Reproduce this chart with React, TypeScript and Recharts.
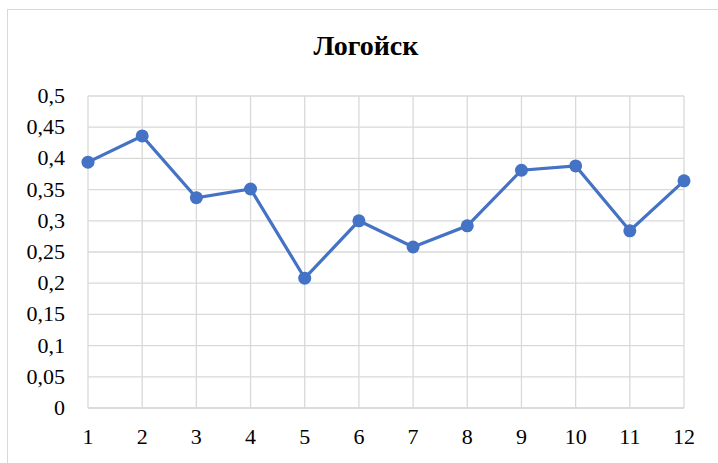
import React from 'react';
import { LineChart, Line, XAxis, YAxis, CartesianGrid } from 'recharts';

const categories = ['1', '2', '3', '4', '5', '6', '7', '8', '9', '10', '11', '12'];
const values = [0.394, 0.436, 0.337, 0.351, 0.208, 0.3, 0.258, 0.292, 0.381, 0.388, 0.284, 0.364];
const yTicks = [0, 0.05, 0.1, 0.15, 0.2, 0.25, 0.3, 0.35, 0.4, 0.45, 0.5];
const title = 'Логойск';

const data = categories.map((c, i) => ({ name: c, value: values[i] }));

const FONT = '"Liberation Serif", "Times New Roman", serif';

const XTick = (props: any) => {
  const { x, y, payload } = props;
  return (
    <text x={x} y={y} dy={15} textAnchor="middle" style={{ fontFamily: FONT, fontSize: 22, fill: '#000' }}>
      {payload.value}
    </text>
  );
};

const YTick = (props: any) => {
  const { x, y, payload } = props;
  return (
    <text x={x} y={y} dy={7} textAnchor="end" style={{ fontFamily: FONT, fontSize: 22, fill: '#000' }}>
      {String(payload.value).replace('.', ',')}
    </text>
  );
};

export default function App() {
  return (
    <div style={{ position: 'absolute', left: 0, top: 0, width: 718, height: 463, overflow: 'hidden', background: '#fff' }}>
      <div
        style={{
          position: 'absolute',
          left: 7,
          top: 9,
          width: 900,
          height: 700,
          border: '1px solid #d9d9d9',
          boxSizing: 'border-box',
        }}
      />
      <div
        style={{
          position: 'absolute',
          left: 0,
          width: 732,
          top: 31,
          textAlign: 'center',
          fontFamily: FONT,
          fontWeight: 'bold',
          fontSize: 28,
          color: '#000',
          lineHeight: '30px',
        }}
      >
        {title}
      </div>
      <div style={{ position: 'absolute', left: 0, top: 0 }}>
        <LineChart width={718} height={463} data={data} margin={{ top: 96, right: 34, bottom: 25, left: 28 }}>
          <CartesianGrid stroke="#d9d9d9" strokeWidth={1.3} />
          <XAxis
            dataKey="name"
            axisLine={{ stroke: '#d9d9d9', strokeWidth: 1.3 }}
            tickLine={false}
            height={30}
            tickMargin={15}
            interval={0}
            tick={<XTick />}
          />
          <YAxis
            domain={[0, 0.5]}
            ticks={yTicks}
            width={60}
            axisLine={false}
            tickLine={false}
            tickMargin={17}
            interval={0}
            tick={<YTick />}
          />
          <Line
            type="linear"
            dataKey="value"
            stroke="#4472C4"
            strokeWidth={3.2}
            dot={{ r: 6.5, fill: '#4472C4', stroke: '#4472C4', strokeWidth: 0 }}
            activeDot={false}
            isAnimationActive={false}
          />
        </LineChart>
      </div>
    </div>
  );
}
